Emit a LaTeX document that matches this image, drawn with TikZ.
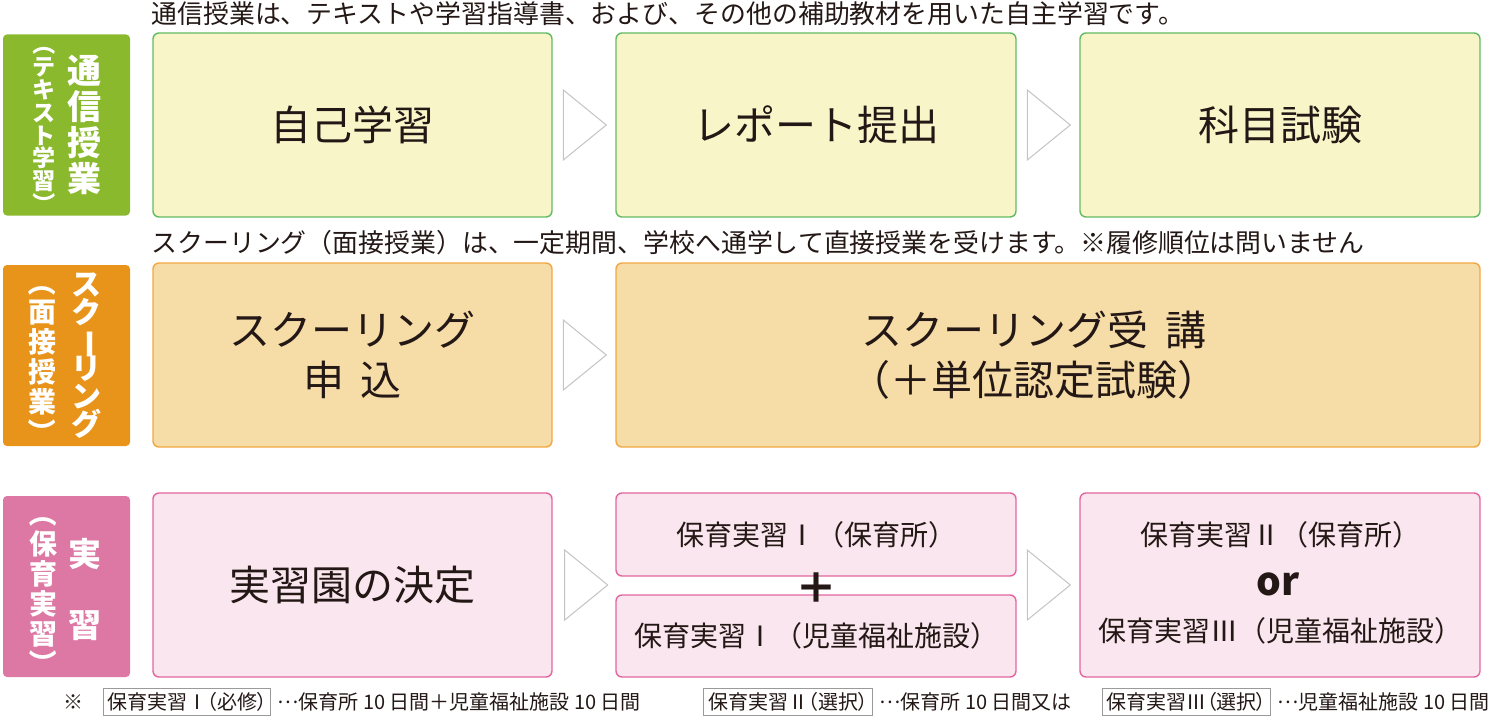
\documentclass[tikz,border=0pt]{standalone}
\usepackage{fontspec}
\setmainfont{Noto Sans CJK JP}
\newfontfamily\fnfont[RawFeature=+palt]{Noto Sans CJK JP}
\usetikzlibrary{calc}
\definecolor{ink}{HTML}{231815}
\definecolor{LGreen}{HTML}{8AB92D}
\definecolor{LOrange}{HTML}{E8931A}
\definecolor{LPink}{HTML}{DD77A3}
\definecolor{GFill}{HTML}{F8F5C9}
\definecolor{GLine}{HTML}{62BB62}
\definecolor{OFill}{HTML}{F6DCA7}
\definecolor{OLine}{HTML}{F0A843}
\definecolor{PFill}{HTML}{F9E6EE}
\definecolor{PLine}{HTML}{E3669E}
\definecolor{TriGray}{HTML}{C4C4C4}
\definecolor{FnGray}{HTML}{9A9A9A}
\newcommand{\fs}[2]{\fontsize{#1}{#2}\selectfont\lineskiplimit=-100pt\lineskip=0pt}
\newcommand{\vpo}{\rotatebox[origin=c]{-90}{（}}
\newcommand{\vpc}{\rotatebox[origin=c]{-90}{）}}
\newcommand{\vbar}{\rotatebox[origin=c]{-90}{ー}}
\newcommand{\mdots}{\raisebox{0.3em}{…}}
\tikzset{
  lbl/.style={rectangle, rounded corners=2pt, minimum width=63.5pt, minimum height=90.5pt, inner sep=0pt},
  vtxt/.style={text=white, align=center, inner sep=0pt},
  boxbase/.style={rectangle, rounded corners=3pt, line width=0.7pt, inner sep=0pt, text=ink, align=center, font=\fs{20.5}{25}},
  gbox/.style={boxbase, draw=GLine, fill=GFill},
  obox/.style={boxbase, draw=OLine, fill=OFill},
  pbox/.style={boxbase, draw=PLine, fill=PFill},
  tri/.style={draw=TriGray, line width=0.5pt, fill=white, line join=miter},
  head/.style={anchor=west, inner sep=0pt, text=ink, font=\fs{12.95}{16}},
  bigtxt/.style={inner sep=0pt, text=ink, align=center, font=\fs{20.5}{25}},
  smalltxt/.style={inner sep=0pt, text=ink, font=\fs{14}{16}},
  fnt/.style={inner sep=0pt, text=ink, font=\fnfont\fs{10}{12}},
  fbox/.style={fnt, draw=FnGray, line width=0.5pt, minimum height=13.5pt, inner xsep=1.5pt, anchor=west},
}
\begin{document}
\begin{tikzpicture}[x=0.5pt, y=-0.5pt]
\useasboundingbox (0,0) rectangle (1500,717);

% headings
\node[head] (h1) at (151,14) {通信授業は、テキストや学習指導書、および、その他の補助教材を用いた自主学習です。};
\node[head] (h2) at (151,243) {スクーリング（面接授業）は、一定期間、学校へ通学して直接授業を受けます。※履修順位は問いません};

% left labels
\node[lbl, fill=LGreen] (lg) at (66.5,125) {};
\node[vtxt, font=\fs{17}{18}\bfseries] (lg1) at (85,125) {通\\信\\授\\業};
\node[vtxt, font=\fs{11.5}{11.4}\bfseries] (lg2) at (44,124) {\vpo\\テ\\キ\\ス\\ト\\学\\習\\\vpc};

\node[lbl, fill=LOrange] (lo) at (66.5,355.5) {};
\node[vtxt, font=\fs{15}{14}\bfseries] (lo1) at (86,356) {ス\\ク\\\vbar\\リ\\ン\\グ};
\node[vtxt, font=\fs{14}{15}\bfseries] (lo2) at (42,357) {\vpo\\面\\接\\授\\業\\\vpc};

\node[lbl, fill=LPink] (lp) at (66.5,586.5) {};
\node[vtxt, font=\fs{16.5}{35.5}\bfseries] (lp1) at (85,589.5) {実\\習};
\node[vtxt, font=\fs{14}{15}\bfseries] (lp2) at (43,588.5) {\vpo\\保\\育\\実\\習\\\vpc};

% row 1
\node[gbox, minimum width=199.5pt, minimum height=92pt] (a1) at (352.5,125) {自己学習};
\node[gbox, minimum width=200pt, minimum height=92pt] (b1) at (816,125) {レポート提出};
\node[gbox, minimum width=200pt, minimum height=92pt] (c1) at (1280,125) {科目試験};

% row 2
\node[obox, minimum width=199.5pt, minimum height=92pt] (a2) at (352.5,355) {スクーリング\\申\hspace{0.4em}込};
\node[obox, minimum width=432pt, minimum height=92pt] (b2) at (1048,355) {};
\node[bigtxt] (b2t) at (1034,355) {スクーリング受\hspace{0.4em}講\\（＋単位認定試験）};

% row 3
\node[pbox, minimum width=199.5pt, minimum height=92pt] (a3) at (352.5,585) {実習園の決定};
\node[pbox, minimum width=200pt, minimum height=41.5pt, font=\fs{14}{16}] (b3t) at (816,534.5) {保育実習Ⅰ（保育所）};
\node[pbox, minimum width=200pt, minimum height=41pt, font=\fs{14}{16}] (b3b) at (816,636) {保育実習Ⅰ（児童福祉施設）};
\node[inner sep=0pt, text=ink, font=\fs{21}{24}\bfseries] (plus) at (816,588) {＋};
\node[pbox, minimum width=200pt, minimum height=92pt] (c3) at (1280,585) {};
\node[smalltxt] (c3a) at (1280,535) {保育実習Ⅱ（保育所）};
\node[inner sep=0pt, text=ink, font=\fs{19.5}{22}\bfseries] (c3or) at (1278,584) {or};
\node[smalltxt] (c3b) at (1280,631) {保育実習Ⅲ（児童福祉施設）};

% flow triangles
\draw[tri] ($(b1.west)+(-52,-35)$) -- ($(b1.west)+(-9,0)$) -- ($(b1.west)+(-52,35)$) -- cycle;
\draw[tri] ($(c1.west)+(-52,-35)$) -- ($(c1.west)+(-9,0)$) -- ($(c1.west)+(-52,35)$) -- cycle;
\draw[tri] ($(b2.west)+(-52,-35)$) -- ($(b2.west)+(-9,0)$) -- ($(b2.west)+(-52,35)$) -- cycle;
\draw[tri] ($(a3.east)+(12,-35)$) -- ($(a3.east)+(55,0)$) -- ($(a3.east)+(12,35)$) -- cycle;
\draw[tri] ($(c3.west)+(-52,-35)$) -- ($(c3.west)+(-9,0)$) -- ($(c3.west)+(-52,35)$) -- cycle;

% footnote
\node[fnt] (fn0) at (73,702) {※};
\node[fbox, minimum width=83.5pt] (fn1) at (103,702) {保育実習Ⅰ（必修）};
\node[fnt, anchor=west] (fn2) at (277,702) {\mdots 保育所 10 日間＋児童福祉施設 10 日間};
\node[fbox, minimum width=84.5pt] (fn3) at (703,702) {保育実習Ⅱ（選択）};
\node[fnt, anchor=west] (fn4) at (879,702) {\mdots 保育所 10 日間又は};
\node[fbox, minimum width=84pt] (fn5) at (1102,702) {保育実習Ⅲ（選択）};
\node[fnt, anchor=west] (fn6) at (1277,702) {\mdots 児童福祉施設 10 日間};
\end{tikzpicture}
\end{document}
